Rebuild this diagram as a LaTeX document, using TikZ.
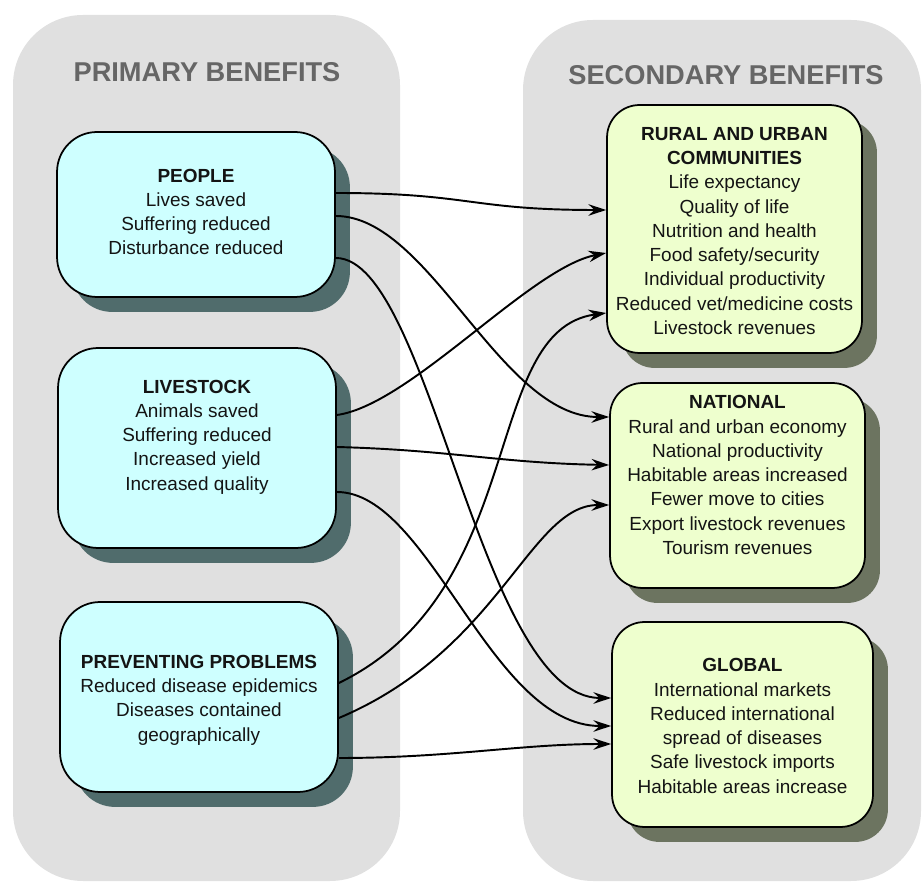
\documentclass[tikz,border=0pt]{standalone}
\usepackage{fontspec}
\setmainfont{Liberation Sans}
\usetikzlibrary{arrows.meta,shadows}
\definecolor{panelgray}{RGB}{224,224,224}
\definecolor{headgray}{RGB}{102,102,102}
\definecolor{primfill}{RGB}{206,255,255}
\definecolor{primshadow}{RGB}{80,108,108}
\definecolor{secfill}{RGB}{238,255,206}
\definecolor{secshadow}{RGB}{108,116,96}
\definecolor{textdark}{RGB}{20,20,20}
\begin{document}
\begin{tikzpicture}[x=0.02cm,y=-0.02cm,
	panel/.style={fill=panelgray,rounded corners=1.4cm},
	head/.style={text=headgray,font=\fontsize{15.5}{18}\selectfont\bfseries},
	primbox/.style={draw=black,line width=1pt,fill=primfill,rounded corners=0.8cm,
		minimum width=5.56cm,
		drop shadow={shadow xshift=8.5pt,shadow yshift=-8.5pt,fill=primshadow,opacity=1}},
	secbox/.style={draw=black,line width=1pt,fill=secfill,rounded corners=0.65cm,
		drop shadow={shadow xshift=8.5pt,shadow yshift=-8.5pt,fill=secshadow,opacity=1}},
	txt/.style={align=center,text=textdark,font=\fontsize{10.8}{13.8}\selectfont},
	conn/.style={line width=1.1pt,-{Stealth[length=10pt,width=6.5pt]}}]
	\useasboundingbox (0,0) rectangle (923,884);
	% background panels
	\fill[panel] (13,15) rectangle (400,881);
	\fill[panel] (523,20) rectangle (921,881);
	\node[head] (primhead) at (207,72) {PRIMARY BENEFITS};
	\node[head] (sechead) at (726,75) {SECONDARY BENEFITS};
	% primary boxes
	\node[primbox,minimum height=3.3cm] (people) at (196,214.5) {};
	\node[primbox,minimum height=4cm] (livestock) at (197,448) {};
	\node[primbox,minimum height=3.8cm] (prevent) at (199,697) {};
	\node[txt] (peopletxt) at (people.center |- 0,212) {\textbf{PEOPLE}\\Lives saved\\Suffering reduced\\Disturbance reduced};
	\node[txt] (livestocktxt) at (livestock.center |- 0,437) {\textbf{LIVESTOCK}\\Animals saved\\Suffering reduced\\Increased yield\\Increased quality};
	\node[txt] (preventtxt) at (prevent.center |- 0,700) {\textbf{PREVENTING PROBLEMS}\\Reduced disease epidemics\\Diseases contained\\geographically};
	% secondary boxes
	\node[secbox,minimum width=5.1cm,minimum height=4.96cm] (rural) at (734.5,229) {};
	\node[secbox,minimum width=5.1cm,minimum height=4.1cm] (national) at (737.5,485.5) {};
	\node[secbox,minimum width=5.22cm,minimum height=4.1cm] (global) at (742.5,724.5) {};
	\node[txt] (ruraltxt) at (rural.center |- 0,231) {\textbf{RURAL AND URBAN}\\\textbf{COMMUNITIES}\\Life expectancy\\Quality of life\\Nutrition and health\\Food safety/security\\Individual productivity\\Reduced vet/medicine costs\\Livestock revenues};
	\node[txt] (nationaltxt) at (national.center |- 0,475) {\textbf{NATIONAL}\\Rural and urban economy\\National productivity\\Habitable areas increased\\Fewer move to cities\\Export livestock revenues\\Tourism revenues};
	\node[txt] (globaltxt) at (global.center |- 0,726) {\textbf{GLOBAL}\\International markets\\Reduced international\\spread of diseases\\Safe livestock imports\\Habitable areas increase};
	% connectors
	\draw[conn] (people.east |- 0,193) .. controls (470,193) and (470,210) .. (rural.west |- 0,210);
	\draw[conn] (people.east |- 0,216) .. controls (430,216) and (500,417) .. (national.west |- 0,417);
	\draw[conn] (people.east |- 0,258) .. controls (430,258) and (480,698) .. (global.west |- 0,698);
	\draw[conn] (livestock.east |- 0,415) .. controls (410,405) and (530,268) .. (rural.west |- 0,253);
	\draw[conn] (livestock.east |- 0,447) .. controls (450,450) and (500,463) .. (national.west |- 0,465);
	\draw[conn] (livestock.east |- 0,492) .. controls (430,492) and (490,726) .. (global.west |- 0,726);
	\draw[conn] (prevent.east |- 0,683) .. controls (530,590) and (480,330) .. (rural.west |- 0,313);
	\draw[conn] (prevent.east |- 0,718) .. controls (500,650) and (530,505) .. (national.west |- 0,505);
	\draw[conn] (prevent.east |- 0,758) .. controls (450,758) and (520,744) .. (global.west |- 0,744);
\end{tikzpicture}
\end{document}
